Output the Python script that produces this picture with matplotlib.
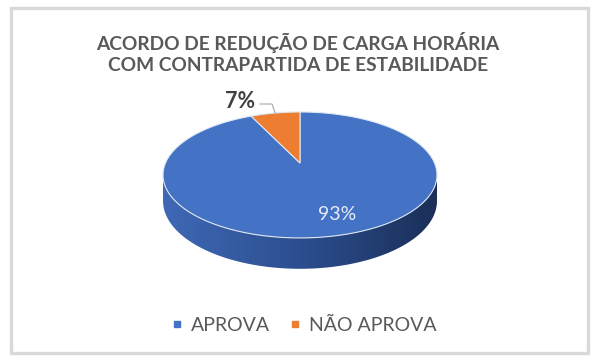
import numpy as np
import matplotlib
matplotlib.use("Agg")
import matplotlib.pyplot as plt
from matplotlib.patches import Polygon, Rectangle
from matplotlib.lines import Line2D
from matplotlib.colors import to_rgb

plt.rcParams['font.family'] = ['Lato', 'DejaVu Sans']

# ---------------- Data ---------------- #
title = "ACORDO DE REDUÇÃO DE CARGA HORÁRIA\nCOM CONTRAPARTIDA DE ESTABILIDADE"
labels = ["APROVA", "NÃO APROVA"]
values = [93, 7]
colors = ["#4472C4", "#ED7D31"]

# ---------------- 3D pie geometry (pixel space) ---------------- #
xc, yc = 300, 163        # projected pie centre
a, b = 134.5, 60.7       # radii of the disc
k = 0.19                 # perspective strength
depth = 25               # thickness of the pie


def proj(t, r=1.0, z=0.0):
    u, v = r * np.cos(t), r * np.sin(t)
    w = 1 - k * v
    return xc + a * u / w, yc + (b * v + z) / w


fig = plt.figure(figsize=(5.95, 3.62), dpi=100)
ax = fig.add_axes([0, 0, 1, 1])
ax.set_xlim(0, 595)
ax.set_ylim(362, 0)
ax.axis('off')

# frame
ax.add_patch(Rectangle((11, 8), 577, 345, fill=False, edgecolor='#d9d9d9', linewidth=2.4))

# side of the pie (front half, with a shading gradient)
ts = np.arcsin(k)
tt = np.linspace(ts, np.pi - ts, 200)
xt, yt = proj(tt)
xb, yb = proj(tt[::-1], z=depth)
side = Polygon(np.column_stack([np.r_[xt, xb], np.r_[yt, yb]]), closed=True,
               facecolor='none', edgecolor='none')
ax.add_patch(side)
x_left, x_right = xt.min(), xt.max()
stops = [to_rgb('#3F69B6'), to_rgb('#2C4E8F'), to_rgb('#1B2F58')]
n = 256
grad = np.zeros((1, n, 3))
s = np.linspace(0, 1, n)
for c in range(3):
    grad[0, :, c] = np.interp(s, [0, 0.5, 1], [stops[0][c], stops[1][c], stops[2][c]])
im = ax.imshow(grad, extent=(x_left, x_right, yb.max() + 2, yt.min() - 2),
               aspect='auto', zorder=1)
im.set_clip_path(side)

# top face wedges: start at 12 o'clock, clockwise
t0 = -np.pi / 2
fracs = np.array(values) / sum(values)
start = t0
for frac, col in zip(fracs, colors):
    arc = np.linspace(start, start + 2 * np.pi * frac, 300)
    px, py = proj(arc)
    pts = np.column_stack([np.r_[xc, px], np.r_[yc, py]])
    ax.add_patch(Polygon(pts, closed=True, facecolor=col, edgecolor='#dfe6f3',
                         linewidth=0.8, zorder=2))
    start += 2 * np.pi * frac

# data labels
ax.text(337, 215, f"{values[0]}%", ha='center', va='center', fontsize=14,
        color='#e6ecf7', zorder=3)
mid_orange = t0 + 2 * np.pi * (fracs[0] + fracs[1] / 2)
lx, ly = proj(mid_orange)
ax.plot([260, 272, lx], [104, 104, ly], color='#a6a6a6', linewidth=0.8, zorder=3)
ax.text(240, 101, f"{values[1]}%", ha='center', va='center', fontsize=15.5,
        fontweight='bold', color='#404040', zorder=3)

# title
ax.text(298, 53, title, ha='center', va='center', fontsize=13.8, fontweight='bold',
        color='#595959', linespacing=1.35)

# legend
handles = [Line2D([], [], marker='s', linestyle='none', markersize=4.5, color=c)
           for c in colors]
ax.legend(handles, labels, loc='center', bbox_to_anchor=(303 / 595, 1 - 325 / 362),
          ncol=2, frameon=False, fontsize=14, labelcolor='#595959',
          handletextpad=0.3, columnspacing=0.9, handlelength=0.8)

fig.savefig("out.png", dpi=100, facecolor='white')
